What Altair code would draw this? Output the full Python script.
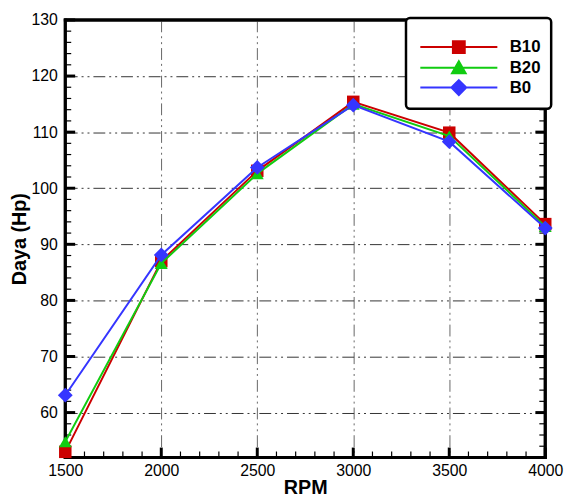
import altair as alt
import pandas as pd

rpm = [1500, 2000, 2500, 3000, 3500, 4000]
b10 = [53.0, 87.0, 103.1, 115.4, 109.9, 93.6]
b20 = [54.8, 86.6, 102.6, 115.0, 109.3, 93.2]
b0 = [63.1, 88.1, 103.7, 114.8, 108.3, 92.9]
series = ["B10", "B20", "B0"]
colors = ["#cc0000", "#11cc11", "#3535ff"]
shapes = ["square", "triangle-up", "diamond"]
sizes = [160, 170, 225]
legend_paths = [
    "M-6.5,0L6.5,0M-1,-1L1,-1L1,1L-1,1Z",
    "M-6.5,0L6.5,0M0,-1.1L1.15,0.9L-1.15,0.9Z",
    "M-6.5,0L6.5,0M0,-1.25L1.25,0L0,1.25L-1.25,0Z",
]
x_major = [1500, 2000, 2500, 3000, 3500, 4000]
y_major = [60, 70, 80, 90, 100, 110, 120, 130]
x_minor = [v for v in range(1600, 4000, 100) if v % 500 != 0]
y_minor = [v for v in range(54, 130, 2) if v % 10 != 0]
x_edges = [1500, 4000]
y_edges = [52, 130]

W, H = 486, 443
FONT = "Liberation Sans"

rows = []
for s, vals in zip(series, [b10, b20, b0]):
    for r, v in zip(rpm, vals):
        rows.append({"kind": "data", "rpm": r, "val": v, "series": s, "dir": 0})
for side, d in zip(x_edges, [1, -1]):
    for v in y_major:
        rows.append({"kind": "ymaj", "rpm": side, "val": v, "series": "", "dir": d})
    for v in y_minor:
        rows.append({"kind": "ymin", "rpm": side, "val": v, "series": "", "dir": d})
for v in x_major:
    rows.append({"kind": "xmaj", "rpm": v, "val": y_edges[0], "series": "", "dir": 0})
for v in x_minor:
    rows.append({"kind": "xmin", "rpm": v, "val": y_edges[0], "series": "", "dir": 0})
for v in x_edges:
    rows.append({"kind": "fx", "rpm": v, "val": y_edges[0], "series": "", "dir": 0})
for v in y_edges:
    rows.append({"kind": "fy", "rpm": x_edges[0], "val": v, "series": "", "dir": 0})
df = pd.DataFrame(rows)

xscale = alt.Scale(domain=x_edges, nice=False, zero=False)
yscale = alt.Scale(domain=y_edges, nice=False, zero=False)

xaxis = alt.Axis(values=x_major, format="d", title="RPM", ticks=False, tickSize=0, domain=False,
                 labelFontSize=16, labelPadding=5, titleFontSize=20, titleFontWeight="bold",
                 titlePadding=0, grid=True, gridColor="#666", gridWidth=1,
                 gridDash=[12, 4, 2, 4, 2, 4], labelFont=FONT, titleFont=FONT, labelColor="black",
                 titleColor="black", labelFlush=False)
yaxis = alt.Axis(values=y_major, format="d", title="Daya (Hp)", ticks=False, tickSize=0, domain=False,
                 labelFontSize=16, labelPadding=8, titleFontSize=20, titleFontWeight="bold",
                 titlePadding=2, grid=True, gridColor="#333", gridWidth=1,
                 gridDash=[12, 4, 2, 4, 2, 4], labelFont=FONT, titleFont=FONT, labelColor="black",
                 titleColor="black", labelFlush=False)

base = alt.Chart(df)
X = alt.X("rpm:Q", scale=xscale)
Y = alt.Y("val:Q", scale=yscale)

def kind_is(k):
    return base.transform_filter(alt.datum.kind == k)

layers = [kind_is("data").mark_point(opacity=0).encode(
    x=alt.X("rpm:Q", scale=xscale, axis=xaxis),
    y=alt.Y("val:Q", scale=yscale, axis=yaxis),
)]

# inward ticks on left and right edges (length converted from pixels to rpm units)
span = x_edges[1] - x_edges[0]
for kind, ln, sw in [("ymaj", 10, 3), ("ymin", 6, 1.2)]:
    layers.append(kind_is(kind).transform_calculate(
        xe=f"datum.rpm + datum.dir * {ln * span / W}"
    ).mark_rule(color="black", strokeWidth=sw, opacity=1).encode(
        x=X, x2=alt.X2("xe:Q"), y=Y))
# inward ticks on bottom edge
for kind, ln, sw in [("xmaj", 10, 3), ("xmin", 6, 1.2)]:
    layers.append(kind_is(kind).mark_tick(orient="vertical", size=ln, thickness=sw,
                                          color="black", opacity=1,
                                          yOffset=-ln / 2).encode(x=X, y=Y))

# frame
layers.append(kind_is("fx").mark_rule(color="black", strokeWidth=3, strokeCap="square").encode(x=X))
layers.append(kind_is("fy").mark_rule(color="black", strokeWidth=3, strokeCap="square").encode(y=Y))

for s, c, sh, sz in zip(series, colors, shapes, sizes):
    sub = base.transform_filter(alt.datum.series == s)
    layers.append(sub.mark_line(color=c, strokeWidth=2).encode(x=X, y=Y))
    layers.append(sub.mark_point(shape=sh, size=sz, filled=True, color=c, opacity=1).encode(
        x=X, y=Y))

leg = alt.Legend(orient="none", legendX=345, legendY=-2, title=" ", titleFontSize=8,
                 titlePadding=3, padding=10, labelFontSize=17, labelFontWeight="bold",
                 labelFont=FONT, labelColor="black", symbolOffset=35, labelOffset=43,
                 rowPadding=-1, strokeColor="black", cornerRadius=4,
                 fillColor="white", symbolStrokeWidth=2, symbolSize=144)
legend_layer = base.transform_filter("false").mark_point(filled=True, opacity=1, size=144,
                                                         strokeWidth=2).encode(
    x=X, y=Y,
    stroke=alt.Stroke("series:N", scale=alt.Scale(domain=series, range=colors), legend=leg),
    fill=alt.Fill("series:N", scale=alt.Scale(domain=series, range=colors), legend=leg),
    shape=alt.Shape("series:N", scale=alt.Scale(domain=series, range=legend_paths), legend=leg),
)
layers.append(legend_layer)

chart = alt.layer(*layers).properties(
    width=W, height=H, background="white",
    autosize=alt.AutoSizeParams(type="none"),
    padding={"left": 58, "top": 9, "right": 20, "bottom": 40},
).configure_view(stroke="black", strokeWidth=3).configure_legend(strokeWidth=2.5)

chart.save("out.html", embed_options={"renderer": "svg", "actions": False})
